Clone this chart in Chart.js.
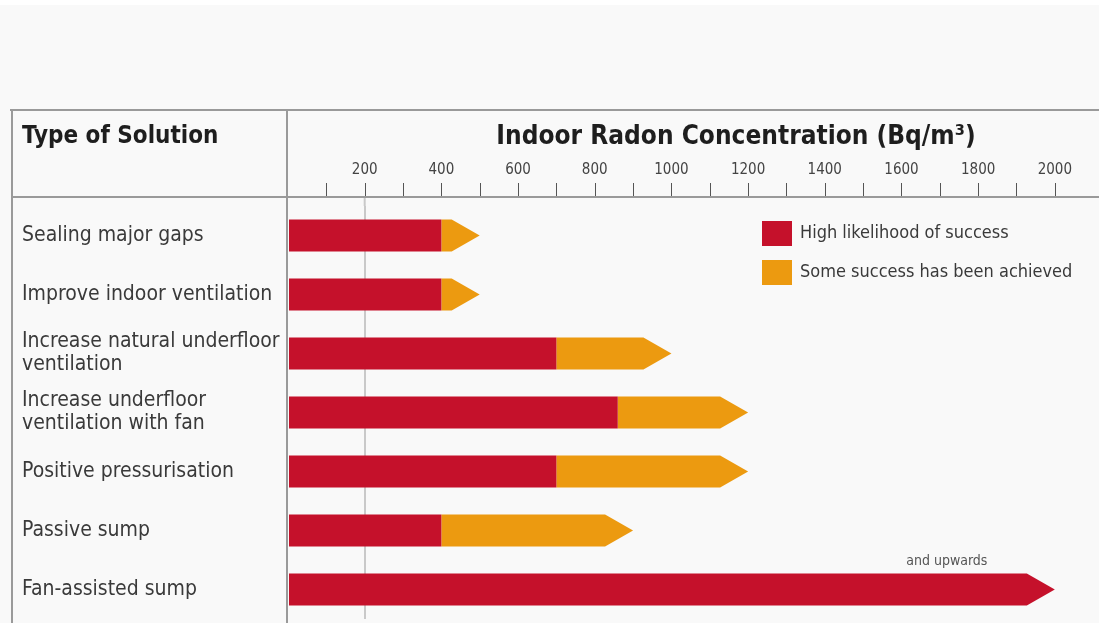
<!DOCTYPE html>
<html>
<head>
<meta charset="utf-8">
<script src="https://cdn.jsdelivr.net/npm/chart.js@4"></script>
<style>
  html, body { margin: 0; padding: 0; background: #f9f9f9; }
  #wrap { position: relative; width: 1099px; height: 623px; border-top: 5px solid #ffffff; box-sizing: border-box; }
  canvas { display: block; }
</style>
</head>
<body>
<div id="wrap"><canvas id="radonChart" width="1099" height="618"></canvas></div>
<script>
// дані з картинки
const solutions = [
    "Sealing major gaps",
    "Improve indoor ventilation",
    ["Increase natural underfloor", "ventilation"],
    ["Increase underfloor", "ventilation with fan"],
    "Positive pressurisation",
    "Passive sump",
    "Fan-assisted sump"
];
const highLikelihood = [[0, 400], [0, 400], [0, 700], [0, 860], [0, 700], [0, 400], [0, 2000]];
const someSuccess = [[400, 500], [400, 500], [700, 1000], [860, 1200], [700, 1200], [400, 900], null];
const seriesNames = ["High likelihood of success", "Some success has been achieved"];
const tickLabels = [200, 400, 600, 800, 1000, 1200, 1400, 1600, 1800, 2000];
const axisTitle = "Indoor Radon Concentration (Bq/m³)";

const RED = "#c5112b";
const ORANGE = "#ec9a10";
const NARROW = "'Liberation Sans Narrow', 'DejaVu Sans Condensed', sans-serif";

document.addEventListener("DOMContentLoaded", function () {
    const ctx = document.getElementById("radonChart").getContext("2d");

    // малюємо стрілки замість звичайних прямокутників
    const arrowBars = {
        id: "arrowBars",
        beforeDatasetDraw(chart, args) {
            const c = chart.ctx;
            const ds = chart.data.datasets;
            const meta = args.meta;
            c.save();
            c.fillStyle = ds[args.index].backgroundColor;
            meta.data.forEach((el, i) => {
                if (ds[args.index].data[i] == null) return;
                const p = el.getProps(["x", "y", "base", "height"], true);
                let last = true;
                for (let k = args.index + 1; k < ds.length; k++) {
                    if (ds[k].data[i] != null) last = false;
                }
                const top = p.y - p.height / 2, bot = p.y + p.height / 2;
                const head = last ? 28 : 0;
                c.beginPath();
                c.moveTo(p.base, top);
                c.lineTo(p.x - head, top);
                c.lineTo(p.x, p.y);
                c.lineTo(p.x - head, bot);
                c.lineTo(p.base, bot);
                c.closePath();
                c.fill();
            });
            c.restore();
            return false;
        }
    };

    // таблиця, підписи рядків, легенда
    const tableDecor = {
        id: "tableDecor",
        afterDraw(chart) {
            const c = chart.ctx;
            const xs = chart.scales.x;
            const ys = chart.scales.y;
            const H = chart.height;
            c.save();
            c.strokeStyle = "#9a9a9a";
            c.lineWidth = 2;
            c.beginPath();
            c.moveTo(10, 105); c.lineTo(1099, 105);
            c.moveTo(12, 105); c.lineTo(12, H);
            c.moveTo(287, 105); c.lineTo(287, H);
            c.moveTo(12, 192); c.lineTo(1099, 192);
            c.stroke();

            // лінія 200 від заголовка до області графіка
            c.strokeStyle = "#c9c9c9";
            c.beginPath();
            const x200 = xs.getPixelForValue(200);
            c.moveTo(x200, 193); c.lineTo(x200, chart.chartArea.top);
            c.stroke();

            // дрібні позначки шкали
            c.strokeStyle = "#555";
            c.lineWidth = 1;
            c.beginPath();
            for (let v = 100; v <= 2000; v += 100) {
                const x = Math.round(xs.getPixelForValue(v)) + 0.5;
                c.moveTo(x, 178); c.lineTo(x, 191);
            }
            c.stroke();

            c.fillStyle = "#1e1e1e";
            c.font = "bold 24px " + NARROW;
            c.textBaseline = "middle";
            c.textAlign = "left";
            c.fillText("Type of Solution", 22, 132);

            c.font = "bold 26px " + NARROW;
            c.textAlign = "center";
            c.fillText(axisTitle, 736, 132);
            c.textAlign = "left";

            c.fillStyle = "#3a3a3a";
            c.font = "21px " + NARROW;
            solutions.forEach((lab, i) => {
                const y = ys.getPixelForValue(i);
                const lines = Array.isArray(lab) ? lab : [lab];
                lines.forEach((t, j) => {
                    c.fillText(t, 22, y + (j - (lines.length - 1) / 2) * 23);
                });
            });

            // легенда
            const colors = [RED, ORANGE];
            c.font = "18px " + NARROW;
            seriesNames.forEach((name, i) => {
                const y = 228 + i * 39;
                c.fillStyle = colors[i];
                c.fillRect(762, y - 12, 30, 25);
                c.fillStyle = "#3a3a3a";
                c.fillText(name, 800, y);
            });

            c.font = "14px " + NARROW;
            c.fillStyle = "#555";
            c.textAlign = "center";
            const last = solutions.length - 1;
            c.fillText("and upwards", xs.getPixelForValue(2000) - 108, ys.getPixelForValue(last) - 28);
            c.restore();
        }
    };

    new Chart(ctx, {
        type: "bar",
        data: {
            labels: solutions,
            datasets: [{
                label: seriesNames[0],
                data: highLikelihood,
                backgroundColor: RED,
                grouped: false
            }, {
                label: seriesNames[1],
                data: someSuccess,
                backgroundColor: ORANGE,
                grouped: false
            }]
        },
        options: {
            indexAxis: "y",
            responsive: false,
            animation: false,
            layout: { padding: { left: 288, right: 41, top: 129, bottom: 4 } },
            barThickness: 32,
            plugins: {
                legend: { display: false },
                tooltip: { enabled: false }
            },
            scales: {
                x: {
                    position: "top",
                    min: 0,
                    max: 2000,
                    border: { display: false },
                    grid: {
                        drawTicks: false,
                        lineWidth: 2,
                        color: (c) => (c.tick && c.tick.value === 200 ? "#c9c9c9" : "transparent")
                    },
                    ticks: {
                        stepSize: 100,
                        autoSkip: false,
                        maxRotation: 0,
                        padding: 27,
                        color: "#444",
                        font: { family: NARROW, size: 15 },
                        callback: (v) => (tickLabels.includes(v) ? String(v) : "")
                    },
                    title: { display: false }
                },
                y: {
                    display: false
                }
            }
        },
        plugins: [arrowBars, tableDecor]
    });
});
</script>
</body>
</html>
